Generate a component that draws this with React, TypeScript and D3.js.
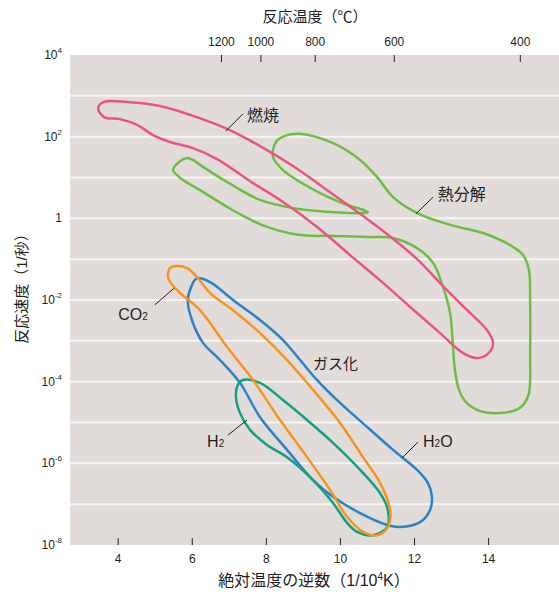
import React from 'react'
import * as d3 from 'd3'

const width = 559
const height = 592
const plot = { left: 70, right: 559, top: 55, bottom: 545 }

// axis values
const invTempTicks = [4, 6, 8, 10, 12, 14]
const celsiusTicks = [1200, 1000, 800, 600, 400]
const rateLabelExps = [4, 2, 0, -2, -4, -6, -8]
const gridExps = [3, 2, 1, 0, -1, -2, -3, -4, -5, -6, -7]

// outlines: [1/10^4K, log10(rate)]
const combustion: [number, number][] = [
  [3.46, 2.70], [3.62, 2.85], [4.24, 2.85], [5.13, 2.75], [6.02, 2.51], [6.94, 2.19],
  [7.83, 1.77], [8.72, 1.28], [9.64, 0.69], [10.53, 0.11], [11.15, -0.31], [12.07, -1.00],
  [12.77, -1.66], [13.42, -2.25], [13.95, -2.73], [14.12, -3.05], [13.98, -3.32], [13.69, -3.42],
  [13.31, -3.30], [12.69, -2.81], [11.88, -2.17], [11.15, -1.58], [10.26, -0.90], [9.37, -0.21],
  [8.45, 0.40], [7.56, 0.91], [6.67, 1.45], [6.02, 1.72], [5.40, 1.87], [4.94, 2.04],
  [4.51, 2.29], [4.05, 2.43], [3.62, 2.48],
]

const pyrolysis: [number, number][] = [
  [5.48, 1.18], [5.67, 1.40], [5.86, 1.48], [6.02, 1.43], [6.21, 1.31], [6.94, 0.89],
  [7.83, 0.45], [8.72, 0.25], [9.64, 0.16], [10.26, 0.13], [10.58, 0.13], [10.74, 0.15],
  [10.61, 0.21], [10.18, 0.33], [9.45, 0.62], [8.91, 0.89], [8.45, 1.18], [8.18, 1.50],
  [8.26, 1.87], [8.50, 2.02], [8.91, 2.07], [9.80, 1.84], [10.53, 1.43], [10.99, 1.01],
  [11.42, 0.52], [12.07, 0.13], [12.96, -0.16], [13.85, -0.36], [14.31, -0.53], [14.66, -0.70],
  [14.93, -0.90], [15.09, -1.27], [15.12, -2.00], [15.12, -3.30], [15.09, -4.28], [14.95, -4.55],
  [14.79, -4.67], [14.31, -4.77], [13.77, -4.72], [13.39, -4.50], [13.20, -4.20], [13.09, -3.71],
  [13.04, -3.15], [12.96, -2.32], [12.77, -1.68], [12.50, -1.09], [12.07, -0.73], [11.42, -0.48],
  [10.72, -0.46], [9.80, -0.43], [8.91, -0.41], [8.02, -0.21], [7.37, 0.06], [6.94, 0.28],
  [6.21, 0.69], [5.75, 0.94], [5.59, 1.06],
]

const h2o: [number, number][] = [
  [6.12, -1.47], [6.48, -1.56], [7.10, -2.00], [7.83, -2.49], [8.45, -2.98], [8.91, -3.47],
  [9.37, -3.96], [9.99, -4.52], [10.72, -5.11], [11.42, -5.67], [12.07, -6.16], [12.36, -6.48],
  [12.47, -6.82], [12.42, -7.14], [12.15, -7.44], [11.61, -7.56], [11.26, -7.51], [10.53, -7.22],
  [9.80, -6.82], [9.26, -6.41], [8.56, -5.67], [7.83, -4.87], [7.29, -4.03], [6.75, -3.47],
  [6.29, -3.05], [5.99, -2.49], [5.88, -2.00], [5.97, -1.68],
]

const h2: [number, number][] = [
  [7.37, -3.96], [7.83, -4.03], [8.45, -4.45], [9.10, -4.94], [9.80, -5.50], [10.53, -6.16],
  [11.07, -6.73], [11.28, -7.14], [11.26, -7.56], [10.88, -7.76], [10.45, -7.68], [10.18, -7.46],
  [9.80, -6.97], [9.26, -6.41], [8.56, -5.85], [8.02, -5.55], [7.56, -5.18], [7.29, -4.77],
  [7.18, -4.38], [7.23, -4.08],
]

const co2: [number, number][] = [
  [5.59, -1.17], [5.86, -1.22], [6.13, -1.44], [6.48, -1.83], [7.10, -2.25], [7.83, -2.81],
  [8.56, -3.47], [9.26, -4.20], [9.99, -5.01], [10.61, -5.85], [11.07, -6.48], [11.34, -7.14],
  [11.28, -7.56], [10.99, -7.76], [10.61, -7.68], [10.18, -7.31], [9.72, -6.65], [9.10, -5.85],
  [8.37, -4.94], [7.64, -3.96], [6.94, -3.15], [6.21, -2.25], [5.59, -1.76], [5.35, -1.46],
  [5.40, -1.22],
]

const sans = '"Liberation Sans", "Noto Sans CJK JP", sans-serif'
const ink = '#231f20'

const App = () => {
  const x = d3.scaleLinear().domain([2.7, 15.9]).range([plot.left, plot.right])
  const y = d3.scaleLog().domain([1e-8, 1e4]).range([plot.bottom, plot.top])
  const ye = (e: number) => y(Math.pow(10, e))

  const outline = d3.line<[number, number]>()
    .x(d => x(d[0]))
    .y(d => ye(d[1]))
    .curve(d3.curveCatmullRomClosed.alpha(0.5))

  const shapes = [
    { key: 'pyrolysis', pts: pyrolysis, color: '#6dbd45' },
    { key: 'combustion', pts: combustion, color: '#ea5580' },
    { key: 'h2o', pts: h2o, color: '#2a83c6' },
    { key: 'h2', pts: h2, color: '#12a083' },
    { key: 'co2', pts: co2, color: '#f7941d' },
  ]

  // leader line between two data points
  const leader = (a: [number, number], b: [number, number], k: string) => (
    <line key={k} x1={x(a[0])} y1={ye(a[1])} x2={x(b[0])} y2={ye(b[1])} stroke={ink} strokeWidth={1} />
  )

  return (
    <svg width={width} height={height} style={{ position: 'absolute', left: 0, top: 0 }} fontFamily={sans}>
      <rect x={plot.left} y={plot.top} width={plot.right - plot.left} height={plot.bottom - plot.top} fill='#e1dcd9' />
      {gridExps.map(e => (
        <line key={e} x1={plot.left} x2={plot.right} y1={ye(e)} y2={ye(e)} stroke='#f7f5f3' strokeWidth={2} />
      ))}

      {/* bottom axis */}
      {invTempTicks.map(t => (
        <g key={t}>
          <line x1={x(t)} x2={x(t)} y1={plot.bottom - 7} y2={plot.bottom} stroke={ink} strokeWidth={1} />
          <text x={x(t)} y={563} textAnchor='middle' fontSize={12} fill={ink}>{t}</text>
        </g>
      ))}
      <text x={314} y={586} textAnchor='middle' fontSize={16} fill={ink}>
        絶対温度の逆数（1/10<tspan fontSize={10} dy={-6}>4</tspan><tspan dy={6}>K）</tspan>
      </text>

      {/* top axis */}
      {celsiusTicks.map(c => {
        const px = x(1e4 / (c + 273.15))
        return (
          <g key={c}>
            <line x1={px} x2={px} y1={plot.top} y2={plot.top + 7} stroke={ink} strokeWidth={1} />
            <text x={px} y={46} textAnchor='middle' fontSize={12} fill={ink}>{c}</text>
          </g>
        )
      })}
      <text x={315} y={22} textAnchor='middle' fontSize={15} fill={ink}>反応温度（℃）</text>

      {/* left axis */}
      {rateLabelExps.map(e => (
        <text key={e} x={62} y={ye(e) + 4} textAnchor='end' fontSize={12} fill={ink}>
          {e === 0 ? '1' : <>10<tspan fontSize={8} dy={-6}>{e}</tspan></>}
        </text>
      ))}
      <text transform={`translate(27,285) rotate(-90)`} textAnchor='middle' fontSize={15} fill={ink}>反応速度（1/秒）</text>

      {/* outlines */}
      {shapes.map(s => (
        <path key={s.key} d={outline(s.pts) || ''} fill='none' stroke={s.color} strokeWidth={2.5} strokeLinejoin='round' />
      ))}

      {/* annotations */}
      {leader([6.91, 2.14], [7.37, 2.56], 'l1')}
      <text x={x(7.48)} y={ye(2.38)} fontSize={16} fill={ink}>燃焼</text>

      {leader([12.04, 0.11], [12.50, 0.52], 'l2')}
      <text x={x(12.63)} y={ye(0.45)} fontSize={16} fill={ink}>熱分解</text>

      <text x={x(9.26)} y={ye(-3.69)} fontSize={15} fill={ink}>ガス化</text>

      {leader([4.99, -2.12], [5.51, -1.71], 'l3')}
      <text x={x(4.0)} y={ye(-2.49)} fontSize={16} fill={ink}>CO<tspan fontSize={10}>2</tspan></text>

      {leader([6.96, -5.31], [7.48, -4.94], 'l4')}
      <text x={x(6.4)} y={ye(-5.6)} fontSize={16} fill={ink}>H<tspan fontSize={10}>2</tspan></text>

      {leader([11.66, -5.87], [12.09, -5.48], 'l5')}
      <text x={x(12.23)} y={ye(-5.6)} fontSize={16} fill={ink}>H<tspan fontSize={10}>2</tspan>O</text>
    </svg>
  )
}

export default App
